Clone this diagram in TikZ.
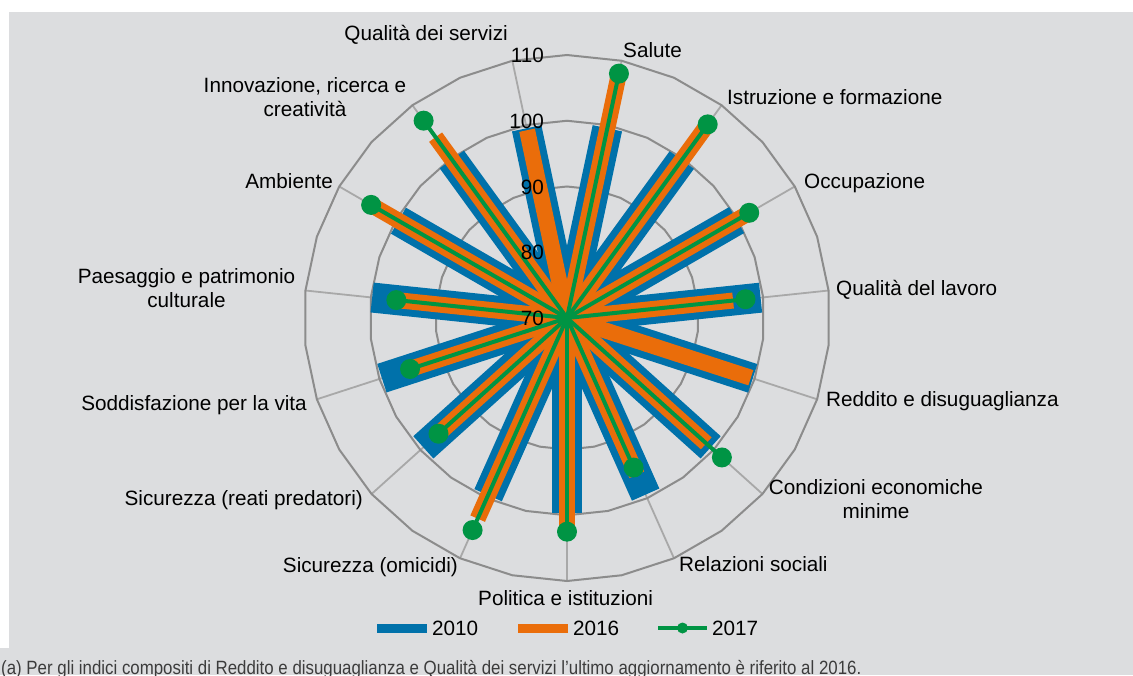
\documentclass[tikz,border=0pt]{standalone}
\usepackage{fontspec}
\setmainfont{Liberation Sans}
\newfontfamily\footfont[FakeStretch=0.878]{Liberation Sans}
\usetikzlibrary{calc}
\definecolor{bgc}{RGB}{220,221,223}
\definecolor{ringgray}{RGB}{140,140,140}
\definecolor{axisgray}{RGB}{168,168,168}
\definecolor{cblue}{RGB}{0,113,170}
\definecolor{corange}{RGB}{234,109,10}
\definecolor{cgreen}{RGB}{0,148,68}
\definecolor{footgray}{RGB}{60,60,60}
\begin{document}
\begin{tikzpicture}[x=1pt,y=-1pt,
  ring/.style={draw=ringgray,line width=2pt,line join=miter},
  axisln/.style={draw=axisgray,line width=1.8pt},
  bluebar/.style={draw=cblue,line width=30pt},
  orangebar/.style={draw=corange,line width=16pt},
  greenbar/.style={draw=cgreen,line width=4pt},
  gmark/.style={fill=cgreen,circle,minimum size=20pt,inner sep=0pt},
  lab/.style={font=\fontsize{20.7}{24}\selectfont,inner sep=0pt,text=black},
  ticklab/.style={lab,anchor=base east}]

\useasboundingbox (0,0) rectangle (1133,675);
\fill[bgc] (9,12) rectangle (1133,675);
\fill[bgc] (0,648) rectangle (1133,675);

\coordinate (C) at (567,318);

\begin{scope}[shift={(C)}]
  % category axes
  \foreach \t [count=\i] in {348,12,36,60,84,108,132,156,180,204,228,252,276,300,324} {
    \coordinate (A\i) at (\t-90:263);
    \draw[axisln] (C) -- (A\i);
  }
  % rings
  \foreach \v in {80,90,100,110} {
    \pgfmathsetmacro\rr{(\v-70)*6.575}
    \draw[ring] (-90:\rr) \foreach \a in {12,24,...,348}{ -- (\a-90:\rr)} -- cycle;
  }
  % 2010
  \foreach \t/\b [count=\i] in {348/99.5,12/99.5,36/99.7,60/99.8,84/99.6,108/99.7,132/99.4,156/99.4,180/99.6,204/99.5,228/99.4,252/99.6,276/99.8,300/99.6,324/99.8} {
    \coordinate (B\i) at (\t-90:{(\b-70)*6.575});
    \draw[bluebar] (C) -- (B\i);
  }
  % 2016
  \foreach \t/\o [count=\i] in {348/99.2,12/107.9,36/106.2,60/101.8,84/95.4,108/99.4,132/98.5,156/96.1,180/102.2,204/103.4,228/96.6,252/95.8,276/96.3,300/104.2,324/104.0} {
    \coordinate (O\i) at (\t-90:{(\o-70)*6.575});
    \draw[orangebar] (C) -- (O\i);
  }
  % 2017
  \foreach \t/\g [count=\i] in {12/108.0,36/106.4,60/102.0,84/97.3,132/101.7,156/94.9,180/102.5,204/105.3,228/96.3,252/95.1,276/96.1,300/104.4,324/107.1} {
    \coordinate (G\i) at (\t-90:{(\g-70)*6.575});
    \draw[greenbar] (C) -- (G\i);
  }
  \foreach \i in {1,...,13} {
    \node[gmark] (M\i) at (G\i) {};
  }
\end{scope}

% value labels
\foreach \v in {70,80,90,100,110} {
  \node[ticklab] (T\v) at (544,{318-(\v-70)*6.575+7.5}) {\v};
}

% category labels
\node[lab,anchor=base east] (L1) at (508,40.5) {Qualità dei servizi};
\node[lab,anchor=base west] (L2) at (623,57.3) {Salute};
\node[lab,anchor=base west] (L3) at (727,104) {Istruzione e formazione};
\node[lab,anchor=base west] (L4) at (804,188.3) {Occupazione};
\node[lab,anchor=base west] (L5) at (836,295) {Qualità del lavoro};
\node[lab,anchor=base west] (L6) at (826,406.5) {Reddito e disuguaglianza};
\node[lab,anchor=base] (L7) at (876,494.5) {\begin{tabular}[t]{@{}c@{}}Condizioni economiche\\minime\end{tabular}};
\node[lab,anchor=base west] (L8) at (679,571.7) {Relazioni sociali};
\node[lab,anchor=base west] (L9) at (478,605.5) {Politica e istituzioni};
\node[lab,anchor=base east] (L10) at (458,572) {Sicurezza (omicidi)};
\node[lab,anchor=base east] (L11) at (363,505) {Sicurezza (reati predatori)};
\node[lab,anchor=base east] (L12) at (307,410.5) {Soddisfazione per la vita};
\node[lab,anchor=base] (L13) at (186.5,283.5) {\begin{tabular}[t]{@{}c@{}}Paesaggio e patrimonio\\culturale\end{tabular}};
\node[lab,anchor=base east] (L14) at (333,188) {Ambiente};
\node[lab,anchor=base] (L15) at (305,92) {\begin{tabular}[t]{@{}c@{}}Innovazione, ricerca e\\creatività\end{tabular}};

% legend
\coordinate (lb1) at (377,628); \coordinate (lb2) at (427,628);
\draw[cblue,line width=9pt] (lb1) -- (lb2);
\node[lab,anchor=base west] (lt1) at (432,635.5) {2010};
\coordinate (lo1) at (518,628); \coordinate (lo2) at (568,628);
\draw[corange,line width=9pt] (lo1) -- (lo2);
\node[lab,anchor=base west] (lt2) at (573,635.5) {2016};
\coordinate (lg1) at (658,628); \coordinate (lg2) at (707,628);
\draw[cgreen,line width=4pt] (lg1) -- (lg2);
\node[fill=cgreen,circle,minimum size=11pt,inner sep=0pt] (lgm) at ($(lg1)!0.5!(lg2)$) {};
\node[lab,anchor=base west] (lt3) at (712,635.5) {2017};

% footnote
\node[anchor=base west,inner sep=0pt,font=\footfont\fontsize{19.2}{22}\selectfont,text=footgray] (fn) at (1,674) {(a) Per gli indici compositi di Reddito e disuguaglianza e Qualità dei servizi l’ultimo aggiornamento è riferito al 2016.};
\end{tikzpicture}
\end{document}
